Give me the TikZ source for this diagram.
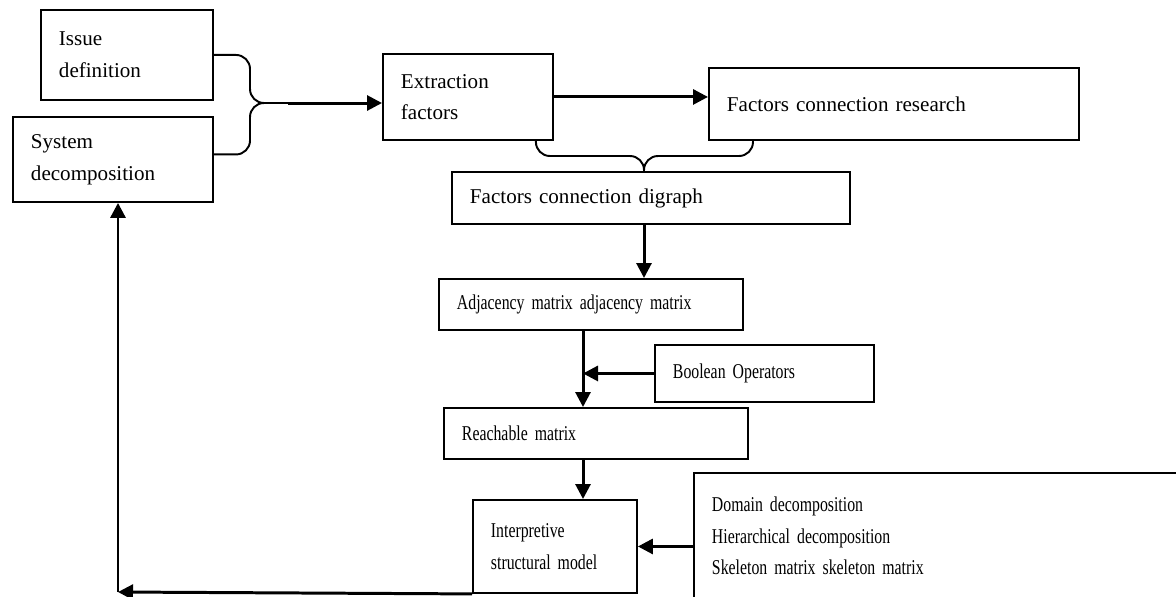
\documentclass[tikz,border=0pt]{standalone}
\usepackage{fontspec}
\setmainfont{Liberation Serif}
\newfontfamily\narrowfont[FakeStretch=0.75]{Liberation Serif}
\newcommand{\narrowtext}{\narrowfont\fontsize{12}{18}\selectfont\spaceskip=2.2pt plus 1pt minus 0.5pt\relax}
\usetikzlibrary{arrows.meta}

\begin{document}
\begin{tikzpicture}[x=0.02cm, y=-0.02cm,
  stage/.style={draw, line width=1.1pt, anchor=north west, align=left, inner xsep=0.36cm, inner ysep=0pt, font=\fontsize{12}{18}\selectfont},
  narrow/.style={font=\narrowtext},
  flow/.style={-{Triangle[length=0.3cm, width=0.3cm]}, line width=1.7pt},
  bracket/.style={line width=1.1pt, rounded corners=0.28cm}]
  \clip (0,0) rectangle (1176,596);

  % Inputs
  \node[stage, text width=2.72cm, minimum height=1.8cm] (issue) at (40,9) {Issue\\definition};
  \node[stage, text width=3.28cm, minimum height=1.7cm] (sys) at (12,116) {System\\decomposition};

  % Factors
  \node[stage, text width=2.68cm, minimum height=1.72cm] (extr) at (382,53) {Extraction\\factors};
  \node[stage, text width=6.68cm, minimum height=1.44cm] (fcr) at (708,67) {Factors connection research};
  \node[stage, text width=7.24cm, minimum height=1.04cm] (fcd) at (451,171) {Factors connection digraph};

  % Matrices
  \node[stage, narrow, text width=5.36cm, minimum height=1.02cm] (adj) at (438,278) {Adjacency matrix adjacency matrix};
  \node[stage, narrow, text width=3.66cm, minimum height=1.14cm] (bool) at (654,344) {Boolean Operators};
  \node[stage, narrow, text width=5.36cm, minimum height=1.02cm] (reach) at (443,407) {Reachable matrix};

  % Model
  \node[stage, narrow, text width=2.56cm, minimum height=1.86cm] (ism) at (472,499) {Interpretive\\structural model};
  \node[stage, narrow, text width=9.28cm, minimum height=2.52cm] (dec) at (693,472) {Domain decomposition\\Hierarchical decomposition\\Skeleton matrix skeleton matrix};

  % Braces
  \coordinate (join) at (288,103);
  \draw[bracket] (issue.east) -| ([xshift=-0.76cm]join) -- (join);
  \draw[bracket] ([yshift=0.1cm]sys.east) -| ([xshift=-0.76cm]join) -- (join);
  \coordinate (knot) at (644,156);
  \draw[bracket] ([xshift=-0.36cm]extr.south east) |- (knot) -- (knot |- fcd.north);
  \draw[bracket] ([xshift=0.9cm]fcr.south west) |- (knot) -- (knot |- fcd.north);

  % Arrows
  \draw[flow] (join) -- (join -| extr.west);
  \draw[flow] (extr.east) -- (extr.east -| fcr.west);
  \draw[flow] (knot |- fcd.south) -- (knot |- adj.north);
  \coordinate (mid) at (583,372);
  \draw[flow] (adj.south -| mid) -- (reach.north -| mid);
  \draw[flow] (bool.west) -- (bool.west -| mid);
  \draw[flow] (reach.south -| mid) -- (ism.north -| mid);
  \draw[flow] (dec.west |- ism.east) -- (ism.east);

  % Feedback
  \coordinate (back) at (118,592);
  \draw[flow] (ism.south west) -- (back);
  \draw[flow] (back) -- (back |- sys.south);
\end{tikzpicture}
\end{document}
